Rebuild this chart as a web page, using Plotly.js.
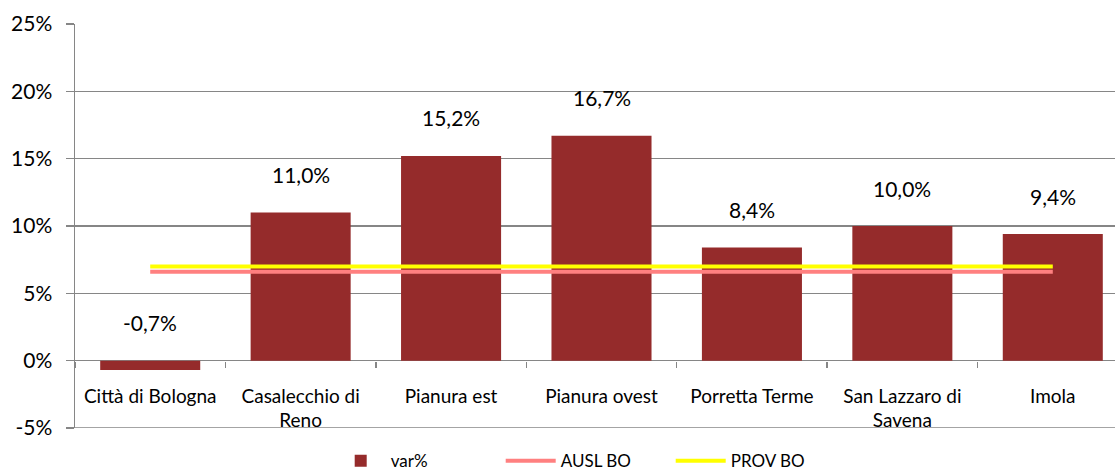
<!DOCTYPE html>
<html>
<head>
<meta charset="utf-8">
<script src="https://cdn.plot.ly/plotly-3.0.1.min.js"></script>
<style>
  html, body { margin: 0; padding: 0; overflow: hidden; background: #fff; }
</style>
</head>
<body>
<div id="chart"></div>
<script>
// Valori
const distretti = ["Città di Bologna", "Casalecchio di<br>Reno", "Pianura est", "Pianura ovest",
                   "Porretta Terme", "San Lazzaro di<br>Savena", "Imola"];
const varPerc = [-0.7, 11.0, 15.2, 16.7, 8.4, 10.0, 9.4];
const auslBO = 6.6;
const provBO = 7.0;
const yTicks = [-5, 0, 5, 10, 15, 20, 25];

const yMin = -5, yMax = 25;
const font = "Lato, 'Open Sans', sans-serif";

const barTrace = {
    type: "bar",
    name: "var%",
    x: distretti,
    y: varPerc,
    width: 0.665,
    marker: { color: "#952b2b" },
    hoverinfo: "skip"
};

// Linee di riferimento dal primo all'ultimo distretto
const auslTrace = {
    type: "scatter",
    mode: "lines",
    name: "AUSL BO",
    x: [distretti[0], distretti[distretti.length - 1]],
    y: [auslBO, auslBO],
    line: { color: "#ff8080", width: 4 }
};
const provTrace = {
    type: "scatter",
    mode: "lines",
    name: "PROV BO",
    x: [distretti[0], distretti[distretti.length - 1]],
    y: [provBO, provBO],
    line: { color: "#ffff00", width: 4 }
};

// Etichette dati sopra le barre
const etichette = varPerc.map((v, i) => ({
    x: distretti[i],
    y: Math.max(v, 0),
    text: v.toFixed(1).replace(".", ",") + "%",
    showarrow: false,
    yshift: 38,
    font: { family: font, size: 21, color: "#000" }
}));

Plotly.newPlot("chart", [barTrace, auslTrace, provTrace], {
    width: 1130,
    height: 470,
    margin: { l: 75, r: 2, t: 24, b: 42, autoexpand: false },
    plot_bgcolor: "#fff",
    paper_bgcolor: "#fff",
    font: { family: font, color: "#000" },
    showlegend: true,
    legend: {
        orientation: "h",
        x: 0.485,
        xanchor: "center",
        y: -0.082,
        yanchor: "middle",
        itemwidth: 50,
        entrywidth: 105,
        font: { family: font, size: 17, color: "#000" },
        traceorder: "normal"
    },
    bargap: 0.335,

    xaxis: {
        type: "category",
        anchor: "free",
        position: (0 - yMin) / (yMax - yMin),
        showgrid: false,
        showline: false,
        ticks: "outside",
        tickson: "boundaries",
        ticklen: 6,
        tickcolor: "#868686",
        tickwidth: 1.5,
        ticklabelstandoff: 22,
        tickfont: { family: font, size: 19, color: "#000" },
        fixedrange: true
    },

    yaxis: {
        range: [yMin, yMax],
        tickvals: yTicks,
        ticktext: yTicks.map(t => t + "%"),
        showgrid: true,
        gridcolor: "#868686",
        gridwidth: 1.5,
        zeroline: false,
        showline: true,
        linecolor: "#868686",
        linewidth: 1.5,
        ticks: "outside",
        ticklen: 8,
        tickcolor: "#868686",
        tickwidth: 1.5,
        ticklabelstandoff: 9,
        tickfont: { family: font, size: 21, color: "#000" },
        fixedrange: true
    },

    shapes: [{
        // linea della griglia al minimo dell'asse
        type: "line", xref: "paper", yref: "y",
        x0: 0, x1: 1, y0: yMin, y1: yMin,
        line: { color: "#868686", width: 1.5 }
    }],

    annotations: etichette
}, { displayModeBar: false, staticPlot: true });
</script>
</body>
</html>
